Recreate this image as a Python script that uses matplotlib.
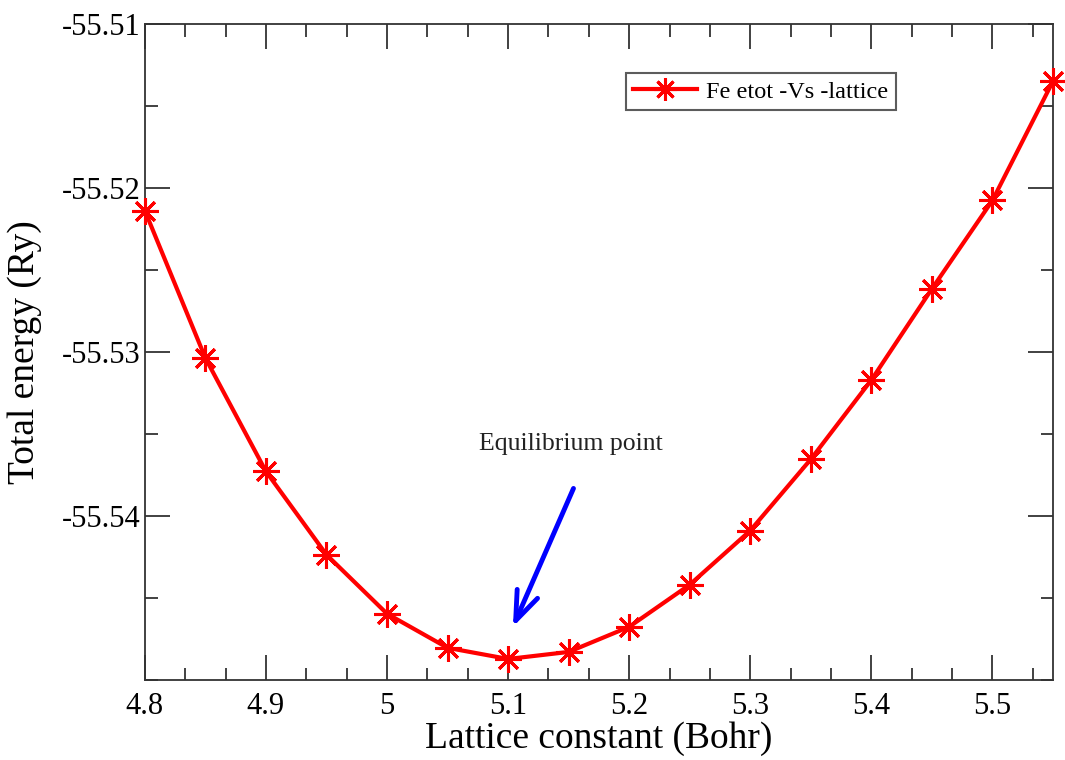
import numpy as np
import matplotlib.pyplot as plt
from matplotlib.ticker import MultipleLocator, FixedLocator

plt.rcParams['font.family'] = ['Liberation Serif', 'DejaVu Serif']

# lattice constant (Bohr) and total energy (Ry)
lattice = [4.80, 4.85, 4.90, 4.95, 5.00, 5.05, 5.10, 5.15,
           5.20, 5.25, 5.30, 5.35, 5.40, 5.45, 5.50, 5.55]
etot = [-55.52138, -55.53037, -55.53728, -55.54236, -55.54596, -55.54804,
        -55.54872, -55.54829, -55.54676, -55.54419, -55.54089, -55.53654,
        -55.53171, -55.52615, -55.52076, -55.51349]
yticks = [-55.54, -55.53, -55.52, -55.51]
xticks = [4.8, 4.9, 5.0, 5.1, 5.2, 5.3, 5.4, 5.5]
xtick_labels = ['4.8', '4.9', '5', '5.1', '5.2', '5.3', '5.4', '5.5']


def main():
    fig = plt.figure(figsize=(10.65, 7.6), dpi=100)
    ax = fig.add_axes([0.136, 0.1053, 0.8527, 0.8631])

    ax.plot(lattice, etot, color='red', lw=3, marker=(8, 2, 0), ms=19, mew=2.2,
            label='Fe etot -Vs -lattice', clip_on=False, zorder=3)

    ax.set_xlim(4.8, 5.55)
    ax.set_ylim(-55.55, -55.51)
    ax.xaxis.set_major_locator(FixedLocator(xticks))
    ax.set_xticklabels(xtick_labels)
    ax.xaxis.set_minor_locator(MultipleLocator(0.1 / 3))
    ax.yaxis.set_major_locator(FixedLocator(yticks))
    ax.set_yticklabels([f'{v:.2f}' for v in yticks])
    ax.yaxis.set_minor_locator(MultipleLocator(0.005))

    ax.tick_params(which='both', direction='in', top=True, right=True,
                   labelsize=22, color='#333333', width=1.3)
    ax.tick_params(which='major', length=18)
    ax.tick_params(axis='x', which='major', pad=9)
    ax.tick_params(axis='y', which='major', pad=3)
    ax.tick_params(which='minor', length=9)
    for s in ax.spines.values():
        s.set_linewidth(1.3)
        s.set_color('#333333')

    ax.set_xlabel('Lattice constant (Bohr)', fontsize=27, labelpad=0)
    ax.set_ylabel('Total energy (Ry)', fontsize=27, labelpad=14)

    ax.text(5.1517, -55.5356, 'Equilibrium point', fontsize=18.5,
            ha='center', va='center', color='#222222')
    ax.annotate('', xy=(5.104, -55.54676), xytext=(5.154, -55.53832),
                arrowprops=dict(arrowstyle='->,head_length=2.1,head_width=0.8',
                                color='blue', lw=3.5, shrinkA=0, shrinkB=0))

    leg = ax.legend(loc='upper left', bbox_to_anchor=(0.530, 0.925),
                    fontsize=17.5, frameon=True, fancybox=False,
                    handlelength=2.6, borderpad=0.3, handletextpad=0.4,
                    borderaxespad=0, markerscale=0.85)
    leg.get_frame().set_edgecolor('#333333')
    leg.get_frame().set_linewidth(1.5)

    fig.savefig('out.png', dpi=100)


if __name__ == "__main__":
    main()
